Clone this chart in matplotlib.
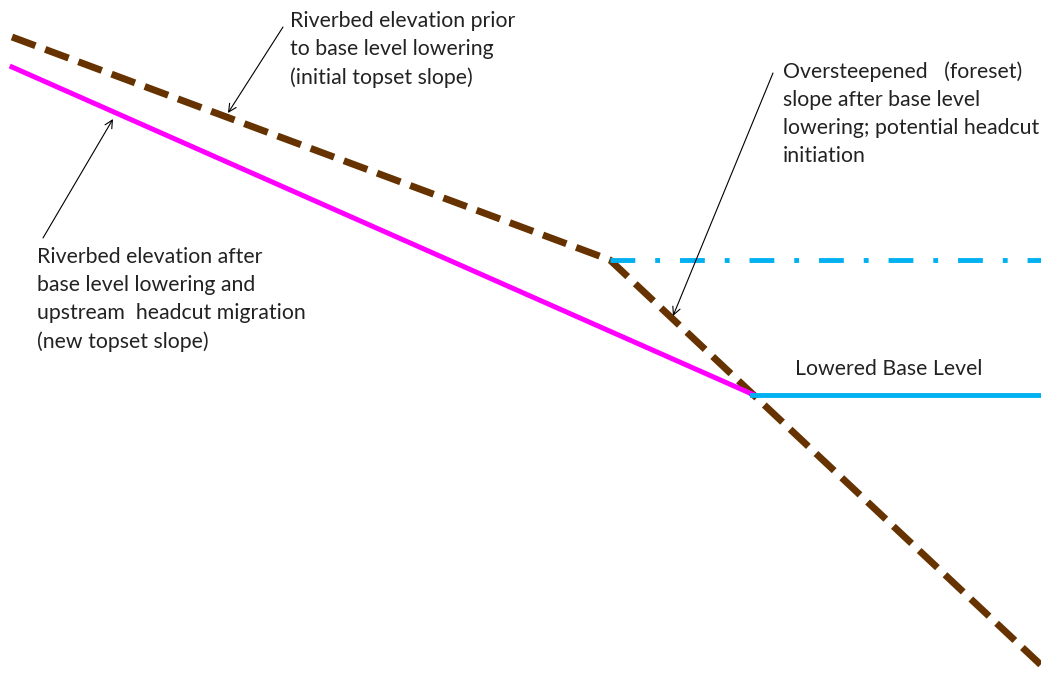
import matplotlib.pyplot as plt

# profile vertices, in picture units (x to the right, y downwards)
initial_x = [12, 610, 1041]
initial_y = [37, 260, 665]
new_x = [12, 752]
new_y = [67, 394]
old_base_x = [610, 1041]
old_base_y = [260, 260]
low_base_x = [752, 1041]
low_base_y = [395, 395]

labels = [
    ("Riverbed elevation prior\nto base level lowering\n(initial topset slope)", 290, 11),
    ("Riverbed elevation after\nbase level lowering and\nupstream  headcut migration\n(new topset slope)", 37, 247),
    ("Oversteepened   (foreset)\nslope after base level\nlowering; potential headcut\ninitiation", 783, 61),
    ("Lowered Base Level", 795, 359),
]
# (text start, arrow tip)
arrows = [
    ((283, 27), (228, 113)),
    ((43, 238), (113, 119)),
    ((773, 73), (673, 316)),
]

plt.rcParams['font.family'] = ['Lato', 'DejaVu Sans']
fig = plt.figure(figsize=(10.41, 6.77), dpi=100)
ax = fig.add_axes([0, 0, 1, 1])
ax.set_xlim(0, 1041)
ax.set_ylim(677, 0)
ax.axis('off')

ax.plot(initial_x, initial_y, color='#663300', lw=5, dashes=(3.6, 1.5),
        solid_joinstyle='miter')
ax.plot(new_x, new_y, color='#ff00ff', lw=3.6)
ax.plot(old_base_x, old_base_y, color='#00b0f0', lw=3.5, dashes=(5.1, 4.1, 1.0, 4.1))
ax.plot(low_base_x, low_base_y, color='#00b0f0', lw=3.5)

for txt, x, y in labels:
    ax.text(x, y, txt, fontsize=15.3, color='#222222', ha='left', va='top',
            linespacing=1.5)

for start, tip in arrows:
    ax.annotate('', xy=tip, xytext=start,
                arrowprops=dict(arrowstyle='->', lw=0.8, color='black',
                                mutation_scale=14, shrinkA=0, shrinkB=0))

fig.savefig('out.png', dpi=100)
